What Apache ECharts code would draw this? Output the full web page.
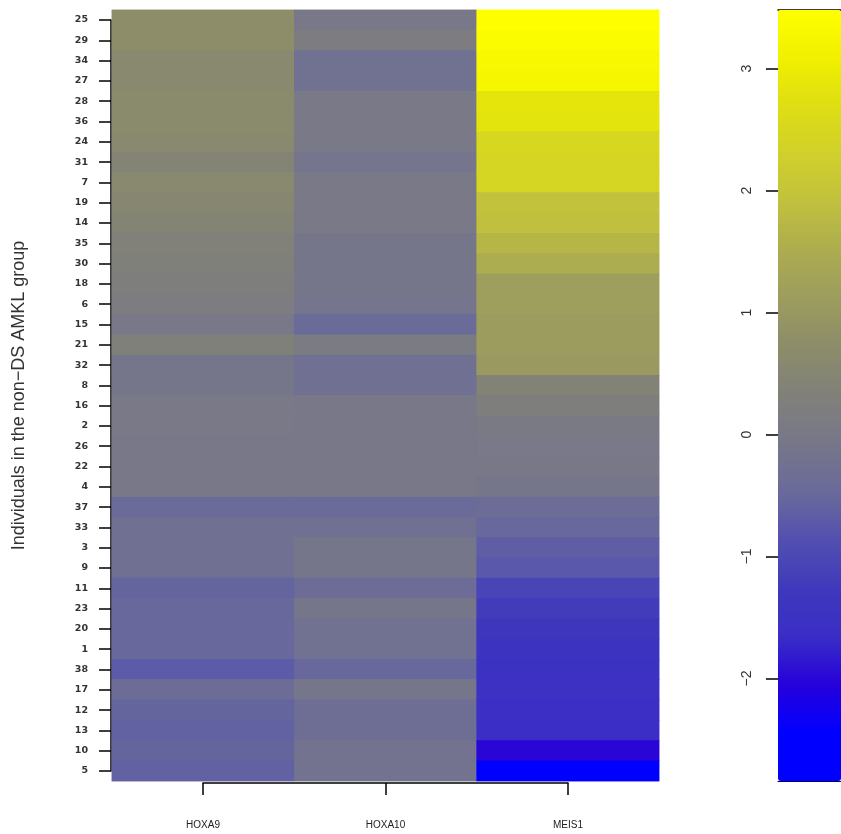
<!DOCTYPE html>
<html>
<head>
<meta charset="utf-8">
<script src="https://cdn.jsdelivr.net/npm/echarts@6/dist/echarts.min.js"></script>
<style>
  html, body { margin: 0; padding: 0; background: #fff; }
  #chart { width: 841px; height: 834px; }
</style>
</head>
<body>
<div id="chart"></div>
<script>
// rows top -> bottom
var rowLabels = ['25', '29', '34', '27', '28', '36', '24', '31', '7', '19', '14', '35', '30', '18', '6', '15', '21', '32', '8',
  '16', '2', '26', '22', '4', '37', '33', '3', '9', '11', '23', '20', '1', '38', '17', '12', '13', '10', '5'];
var genes = ['HOXA9', 'HOXA10', 'MEIS1'];

var hoxa9 = [0.75, 0.75, 0.6, 0.6, 0.65, 0.65, 0.6, 0.45, 0.6, 0.55, 0.45, 0.35, 0.3, 0.25, 0.15, -0.05, 0.3, -0.1, -0.1,
  0, 0, -0.05, -0.05, -0.05, -0.45, -0.3, -0.3, -0.3, -0.55, -0.5, -0.5, -0.5, -0.7, -0.4, -0.55, -0.6, -0.55, -0.6];
var hoxa10 = [-0.05, 0.15, -0.25, -0.25, 0, 0, 0, -0.15, 0, 0, 0, -0.1, -0.1, -0.1, -0.15, -0.45, 0.1, -0.3, -0.3,
  -0.05, -0.05, -0.05, -0.05, -0.05, -0.45, -0.3, -0.1, -0.1, -0.4, -0.1, -0.25, -0.25, -0.5, -0.1, -0.35, -0.35, -0.2, -0.2];
var meis1 = [3.45, 3.4, 3.3, 3.25, 2.85, 2.8, 2.5, 2.45, 2.45, 1.95, 1.9, 1.7, 1.5, 1.15, 1.15, 1.1, 1.1, 1.05, 0.4,
  0.25, 0.05, 0, -0.05, -0.1, -0.4, -0.5, -0.65, -0.75, -1.05, -1.2, -1.35, -1.45, -1.5, -1.55, -1.6, -1.65, -2.0, -2.8];

var scaleMin = -2.84;
var scaleMax = 3.48;
var colorbarTicks = [-2, -1, 0, 1, 2, 3];

var columns = [hoxa9, hoxa10, meis1];
var cells = [];
columns.forEach(function (col, x) {
  col.forEach(function (v, y) {
    cells.push([x, y, v]);
  });
});

var heatSeries = {
  type: 'heatmap',
  xAxisIndex: 0,
  yAxisIndex: 0,
  data: cells,
  itemStyle: { borderWidth: 0 },
  emphasis: { disabled: true }
};

var chart = echarts.init(document.getElementById('chart'));
chart.setOption({
  animation: false,
  grid: [
    { left: 112, top: 10, width: 547, height: 771 },   // heatmap
    { left: 203, top: 10, width: 365, height: 773 },   // x axis (R style, tick to tick)
    { left: 111, top: 20, width: 548, height: 751 },   // y axis
    { left: 778, top: 10, width: 63, height: 771 }     // colour key axis
  ],
  xAxis: [
    { gridIndex: 0, type: 'category', data: genes, show: false },
    {
      gridIndex: 1, type: 'category', data: genes, boundaryGap: false,
      axisLine: { lineStyle: { color: '#000', width: 1.5 } },
      axisTick: { length: 12, lineStyle: { color: '#000', width: 1.5 } },
      axisLabel: { margin: 37, fontSize: 10, color: '#222', fontFamily: 'Liberation Sans' }
    },
    { gridIndex: 2, type: 'value', show: false },
    {
      gridIndex: 3, type: 'value', position: 'top',
      axisLine: { onZero: false, lineStyle: { color: '#000', width: 1.5 } },
      axisTick: { show: false }, axisLabel: { show: false }, splitLine: { show: false }
    },
    {
      gridIndex: 3, type: 'value', position: 'bottom',
      axisLine: { onZero: false, lineStyle: { color: '#00006a', width: 1 } },
      axisTick: { show: false }, axisLabel: { show: false }, splitLine: { show: false }
    }
  ],
  yAxis: [
    { gridIndex: 0, type: 'category', data: rowLabels, inverse: true, show: false },
    { gridIndex: 1, type: 'value', show: false },
    {
      gridIndex: 2, type: 'category', data: rowLabels, inverse: true, boundaryGap: false,
      name: 'Individuals in the non\u2212DS AMKL group', nameLocation: 'middle', nameGap: 83,
      nameTextStyle: { fontSize: 18, color: '#333', fontFamily: 'Liberation Sans' },
      axisLine: { lineStyle: { color: '#000', width: 1.5 } },
      axisTick: { length: 12, lineStyle: { color: '#000', width: 1.5 } },
      axisLabel: { margin: 23, fontSize: 9.5, fontWeight: 'bold', color: '#333', fontFamily: 'DejaVu Sans', interval: 0 }
    },
    {
      gridIndex: 3, type: 'value', min: scaleMin, max: scaleMax,
      axisLine: { show: false },
      axisTick: { customValues: colorbarTicks, length: 12, lineStyle: { color: '#000', width: 1.5 } },
      axisLabel: {
        customValues: colorbarTicks, rotate: 90, margin: 24, fontSize: 14, color: '#333',
        fontFamily: 'Liberation Sans',
        formatter: function (v) { return String(v).replace('-', '\u2212'); }
      },
      splitLine: { show: false }
    }
  ],
  visualMap: {
    type: 'continuous',
    min: scaleMin,
    max: scaleMax,
    calculable: false,
    hoverLink: false,
    left: 778,
    top: 10,
    padding: 0,
    itemWidth: 63,
    itemHeight: 771,
    text: null,
    seriesIndex: [0, 1],
    inRange: {
      color: ['#0000ff', '#0000ff', '#2600da', '#3a2ec6', '#4038bc', '#5250b0', '#6a6a9a', '#77778a', '#80807a',
        '#8c8c6a', '#9c9c5e', '#acac50', '#c0c03e', '#d0d02c', '#dede14', '#f0f000', '#ffff00']
    }
  },
  // drawn twice so the anti-aliased cell seams are covered
  series: [heatSeries, echarts.util.clone(heatSeries)]
});
</script>
</body>
</html>
